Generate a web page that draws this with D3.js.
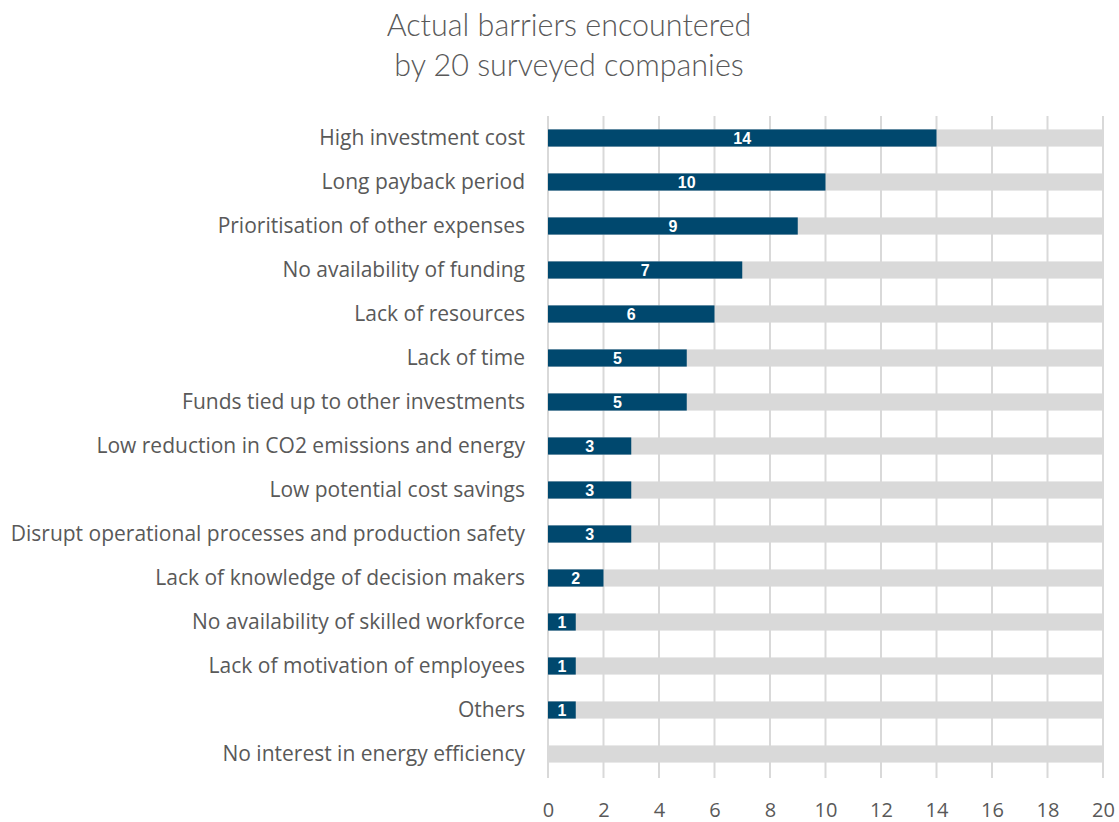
<!DOCTYPE html>
<html>
<head>
<meta charset="utf-8">
<script src="https://cdn.jsdelivr.net/npm/d3@7"></script>
<style>
  html, body { margin: 0; padding: 0; background: #fff; }
  svg { display: block; }
</style>
</head>
<body>
<svg id="chart" width="1119" height="822"></svg>
<script>
// Barriers reported by the surveyed companies (count of companies, out of 20)
const categories = [
  "High investment cost",
  "Long payback period",
  "Prioritisation of other expenses",
  "No availability of funding",
  "Lack of resources",
  "Lack of time",
  "Funds tied up to other investments",
  "Low reduction in CO2 emissions and energy",
  "Low potential cost savings",
  "Disrupt operational processes and production safety",
  "Lack of knowledge of decision makers",
  "No availability of skilled workforce",
  "Lack of motivation of employees",
  "Others",
  "No interest in energy efficiency"
];
const counts = [14, 10, 9, 7, 6, 5, 5, 3, 3, 3, 2, 1, 1, 1, 0];
const totalCompanies = 20;
const tickValues = [0, 2, 4, 6, 8, 10, 12, 14, 16, 18, 20];
const titleLines = ["Actual barriers encountered", "by 20 surveyed companies"];

const svg = d3.select("#chart");
const margin = { top: 116, left: 548, right: 16, bottom: 44 };
const width = 1119, height = 822;

const x = d3.scaleLinear().domain([0, totalCompanies]).range([margin.left, width - margin.right]);
const y = d3.scaleBand().domain(categories).range([margin.top, margin.top + 44 * categories.length]).paddingInner(0.61).paddingOuter(0.305);

const textColor = "#595959";
const gridColor = "#d9d9d9";
const barColor = "#00486e";
const font = "'Open Sans', 'DejaVu Sans', sans-serif";

// Title
svg.append("g").selectAll("text").data(titleLines).join("text")
  .attr("x", 569).attr("y", (d, i) => 36 + i * 40)
  .attr("text-anchor", "middle")
  .attr("font-family", "Lato, sans-serif")
  .attr("font-weight", 300)
  .attr("font-size", 30.5)
  .attr("fill", textColor)
  .text(d => d);

// Vertical gridlines
const gridBottom = margin.top + 44 * categories.length + 2;
svg.append("g").selectAll("line").data(tickValues).join("line")
  .attr("x1", d => x(d)).attr("x2", d => x(d))
  .attr("y1", margin.top).attr("y2", gridBottom)
  .attr("stroke", gridColor).attr("stroke-width", 2);

// Background bars (full scale)
svg.append("g").selectAll("rect").data(categories).join("rect")
  .attr("x", x(0)).attr("y", d => y(d))
  .attr("width", x(totalCompanies) - x(0)).attr("height", y.bandwidth())
  .attr("fill", gridColor);

// Value bars
const rows = categories.map((c, i) => ({ c, v: counts[i] }));
svg.append("g").selectAll("rect").data(rows.filter(d => d.v > 0)).join("rect")
  .attr("x", x(0)).attr("y", d => y(d.c))
  .attr("width", d => x(d.v) - x(0)).attr("height", y.bandwidth())
  .attr("fill", barColor);

// Value labels
svg.append("g").selectAll("text").data(rows.filter(d => d.v > 0)).join("text")
  .attr("x", d => (x(0) + x(d.v)) / 2)
  .attr("y", d => y(d.c) + y.bandwidth() / 2 + 6)
  .attr("text-anchor", "middle")
  .attr("font-family", "Arial, 'Liberation Sans', sans-serif")
  .attr("font-weight", "bold")
  .attr("font-size", 16)
  .attr("fill", "#fff")
  .text(d => d.v);

// Category labels
svg.append("g").selectAll("text").data(categories).join("text")
  .attr("x", 525)
  .attr("y", d => y(d) + y.bandwidth() / 2 + 7)
  .attr("text-anchor", "end")
  .attr("font-family", font)
  .attr("font-size", 21)
  .attr("fill", textColor)
  .text(d => d);

// X axis tick labels
const xAxis = d3.axisBottom(x).tickValues(tickValues).tickSize(0).tickPadding(0);
const axisG = svg.append("g").attr("transform", `translate(0, ${gridBottom})`).call(xAxis);
axisG.select(".domain").remove();
axisG.selectAll("text")
  .attr("dy", null)
  .attr("y", 39)
  .attr("font-family", font)
  .attr("font-size", 20)
  .attr("fill", textColor);
</script>
</body>
</html>
